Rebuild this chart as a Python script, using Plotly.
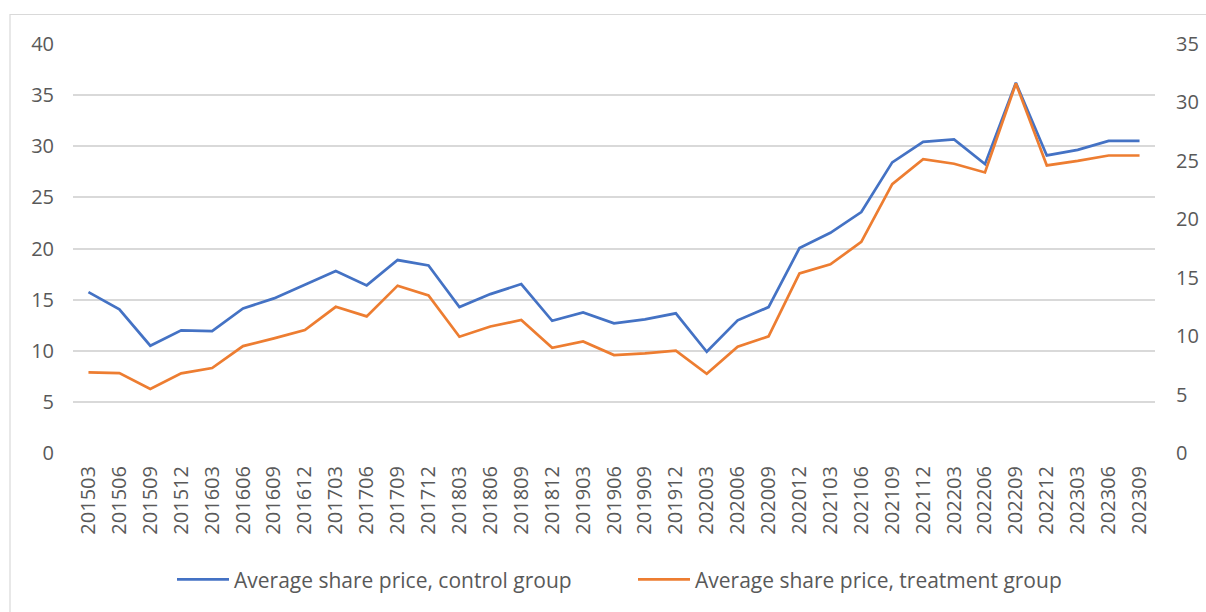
import plotly.graph_objects as go

periods = ["201503", "201506", "201509", "201512", "201603", "201606", "201609", "201612",
           "201703", "201706", "201709", "201712", "201803", "201806", "201809", "201812",
           "201903", "201906", "201909", "201912", "202003", "202006", "202009", "202012",
           "202103", "202106", "202109", "202112", "202203", "202206", "202209", "202212",
           "202303", "202306", "202309"]

control_group = [15.74, 14.05, 10.49, 11.99, 11.93, 14.14, 15.12, 16.49, 17.80, 16.39,
                 18.87, 18.35, 14.27, 15.54, 16.52, 12.93, 13.75, 12.68, 13.07, 13.66,
                 9.90, 12.97, 14.27, 20.04, 21.54, 23.57, 28.42, 30.43, 30.66, 28.25,
                 36.20, 29.10, 29.65, 30.53, 30.53]

treatment_group = [6.90, 6.84, 5.48, 6.82, 7.27, 9.15, 9.81, 10.52, 12.51, 11.69,
                   14.32, 13.48, 9.95, 10.83, 11.38, 9.00, 9.55, 8.38, 8.52, 8.75,
                   6.78, 9.09, 9.98, 15.37, 16.14, 18.07, 23.01, 25.15, 24.75, 24.01,
                   31.62, 24.61, 25.00, 25.46, 25.46]

left_ticks = [0, 5, 10, 15, 20, 25, 30, 35, 40]
right_ticks = [0, 5, 10, 15, 20, 25, 30, 35]

FONT = "Open Sans"
TXT = "#595959"
GRID = "#d9d9d9"

fig = go.Figure()
fig.add_trace(go.Scatter(x=periods, y=control_group, mode="lines",
                         name="Average share price, control group",
                         line=dict(color="#4472C4", width=2.7), yaxis="y"))
fig.add_trace(go.Scatter(x=periods, y=treatment_group, mode="lines",
                         name="Average share price, treatment group",
                         line=dict(color="#ED7D31", width=2.7), yaxis="y2"))

fig.update_layout(
    width=1206, height=612,
    margin=dict(l=73, r=51, t=44, b=159),
    paper_bgcolor="white", plot_bgcolor="white",
    font=dict(family=FONT, color=TXT, size=20),
    showlegend=True,
    legend=dict(orientation="h", x=(172 - 73) / 1082, xanchor="left", y=-0.31, yanchor="middle",
                font=dict(family=FONT, size=21, color=TXT), entrywidth=394,
                itemwidth=52, bgcolor="rgba(0,0,0,0)"),
    xaxis=dict(type="category", tickangle=-90, tickfont=dict(size=20, color=TXT),
               showgrid=False, showline=False, zeroline=False, ticks="",
               ticklabelstandoff=8, automargin=False, range=[-0.5, len(periods) - 0.5]),
    yaxis=dict(range=[0, 40], tickvals=left_ticks, showgrid=True, gridcolor=GRID,
               gridwidth=1.5, zeroline=False, showline=False, ticks="", automargin=False,
               tickfont=dict(size=20, color=TXT), ticklabelstandoff=18),
    yaxis2=dict(range=[0, 35], tickvals=right_ticks, overlaying="y", side="right",
                showgrid=False, zeroline=False, showline=False, ticks="", automargin=False,
                tickfont=dict(size=20, color=TXT), ticklabelstandoff=20),
    shapes=[dict(type="rect", xref="paper", yref="paper",
                 x0=(10 - 73) / 1082, x1=1.2, y0=-0.6, y1=(453 - 14.5) / 409,
                 line=dict(color=GRID, width=1.2), fillcolor="rgba(0,0,0,0)",
                 layer="below")],
)

fig.write_html("out.html", config={"displayModeBar": False},
               post_script="document.body.style.margin='0px';document.body.style.overflow='hidden';")
